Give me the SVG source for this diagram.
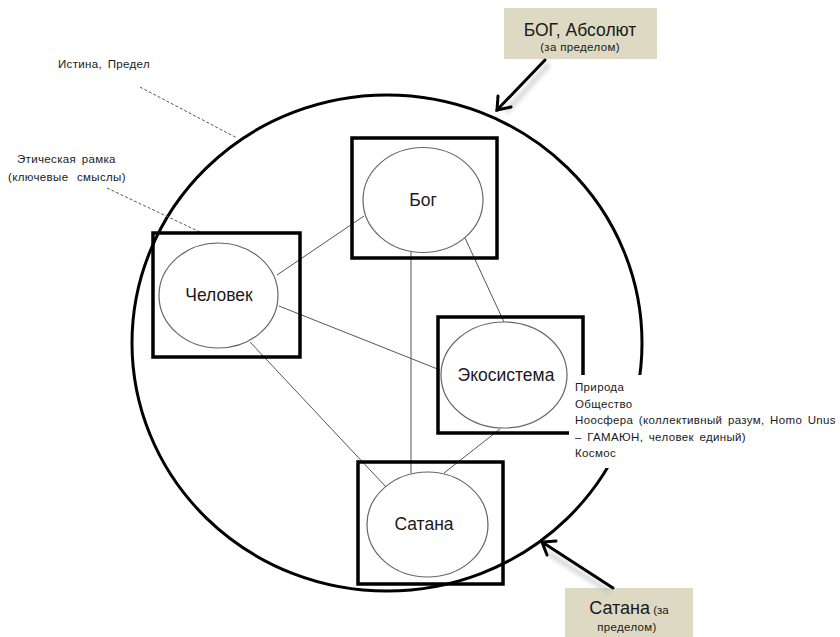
<svg xmlns="http://www.w3.org/2000/svg" width="840" height="637" viewBox="0 0 840 637">
<defs>
<style>
text{font-family:"Liberation Sans","Noto Sans",Arial,sans-serif;fill:#1a1a1a}
.big{fill:none;stroke:#000;stroke-width:3}
.box{fill:none;stroke:#000;stroke-width:3.5}
.ell{fill:#fff;stroke:#666;stroke-width:1.2}
.lbl{font-size:17.5px;text-anchor:middle}
.sm{font-size:11.5px;letter-spacing:0.35px}
.edge{stroke:#555;stroke-width:1;fill:none}
.dash{stroke:#555;stroke-width:1;stroke-dasharray:3 2;fill:none}
.tan{fill:#ddd9c3;stroke:none}
.arr{stroke:#000;stroke-width:3;fill:none;stroke-linecap:round}
.shadow{stroke:#bbb;stroke-width:5;fill:none;opacity:0.6}
</style>
<filter id="blur" x="-20%" y="-20%" width="140%" height="140%"><feGaussianBlur stdDeviation="2"/></filter>
</defs>
<rect width="840" height="637" fill="#fff"/>

<g id="boundary">
<ellipse class="big" cx="387" cy="343" rx="255" ry="248"/>
</g>

<g id="connectors">
<line class="edge" x1="277" y1="275" x2="364" y2="216"/>
<line class="edge" x1="279" y1="306" x2="440" y2="370"/>
<line class="edge" x1="250" y1="342" x2="386" y2="487"/>
<line class="edge" x1="411" y1="252" x2="411" y2="473"/>
<line class="edge" x1="465" y1="238" x2="504" y2="322"/>
<line class="edge" x1="500" y1="429" x2="444" y2="473"/>
<line class="dash" x1="140" y1="87" x2="237" y2="138"/>
<line class="dash" x1="107" y1="188" x2="200" y2="232"/>
</g>

<g id="node-bog">
<rect class="box" x="352" y="138" width="145" height="120"/>
<ellipse class="ell" cx="423" cy="200" rx="60" ry="52.5"/>
<text class="lbl" x="423" y="206">Бог</text>
</g>

<g id="node-chelovek">
<rect class="box" x="153" y="233" width="147" height="124"/>
<ellipse class="ell" cx="218.5" cy="295.5" rx="59.5" ry="52.5"/>
<text class="lbl" x="219" y="301">Человек</text>
</g>

<g id="node-ekosistema">
<rect class="box" x="438" y="317" width="145" height="116"/>
<ellipse class="ell" cx="504" cy="375" rx="63" ry="53"/>
<text class="lbl" x="506" y="381">Экосистема</text>
</g>

<g id="node-satana">
<rect class="box" x="358" y="462" width="145" height="122"/>
<ellipse class="ell" cx="427.5" cy="524.5" rx="60.5" ry="52.5"/>
<text class="lbl" x="424" y="530">Сатана</text>
</g>

<g id="eco-note">
<rect x="569" y="375" width="271" height="93" fill="#fff"/>
<text class="sm" x="575" y="391">Природа</text>
<text class="sm" x="575" y="407.5">Общество</text>
<text class="sm" x="575" y="424" word-spacing="2">Ноосфера (коллективный  разум, Homo Unus</text>
<text class="sm" x="575" y="440.5" word-spacing="2">– ГАМАЮН,  человек  единый)</text>
<text class="sm" x="575" y="457">Космос</text>
</g>

<g id="label-istina">
<text class="sm" x="58" y="68" word-spacing="2">Истина, Предел</text>
</g>

<g id="label-etika">
<text class="sm" x="17" y="163" word-spacing="2">Этическая рамка</text>
<text class="sm" x="8" y="181" word-spacing="5">(ключевые смыслы)</text>
</g>

<g id="label-bog-absolut">
<rect class="tan" x="504" y="8" width="153" height="51"/>
<text class="lbl" x="580" y="36">БОГ, Абсолют</text>
<text class="sm" x="580" y="51" text-anchor="middle">(за пределом)</text>
<line class="shadow" x1="549" y1="64" x2="506" y2="112" filter="url(#blur)"/>
<line class="arr" x1="545" y1="60" x2="497" y2="110"/>
<polyline class="arr" points="498,96 497,110 511,107"/>
</g>

<g id="label-satana">
<rect class="tan" x="565" y="588" width="128" height="49"/>
<text x="629" y="614" text-anchor="middle"><tspan font-size="18">Сатана</tspan><tspan font-size="11.5"> (за</tspan></text>
<text class="sm" x="627" y="631" text-anchor="middle">пределом)</text>
<line class="shadow" x1="610" y1="592" x2="548" y2="553" filter="url(#blur)"/>
<line class="arr" x1="613" y1="588" x2="542" y2="542"/>
<polyline class="arr" points="547,555 542,542 556,541"/>
</g>
</svg>
